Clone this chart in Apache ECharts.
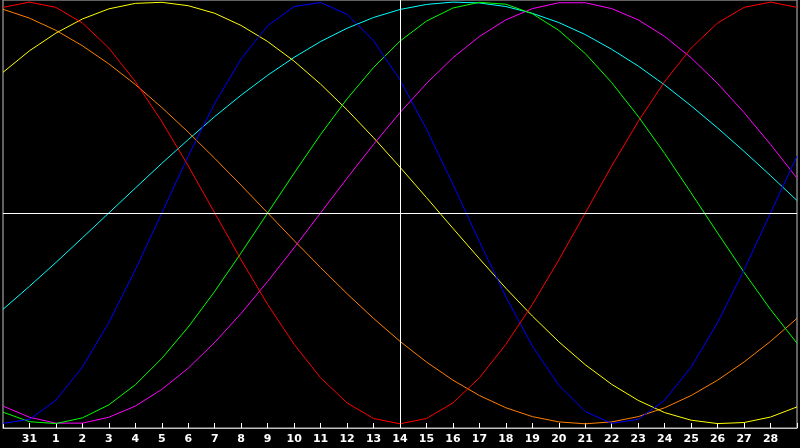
<!DOCTYPE html>
<html lang="en">
<head>
    <meta charset="utf-8">
    <title>Biorhythm</title>
    <script src="https://cdn.jsdelivr.net/npm/echarts@6/dist/echarts.min.js"></script>
    <style type="text/css">
        html, body {
            margin: 0;
            padding: 0;
            background: #000000;
        }

        #main {
            width: 800px;
            height: 448px;
        }
    </style>
</head>
<body>
<div id="main"></div>
<script type="text/javascript">
    // day labels under the ticks (first and last tick have none)
    let dayLabels = ['', '31', '1', '2', '3', '4', '5', '6', '7', '8', '9', '10', '11', '12', '13', '14',
        '15', '16', '17', '18', '19', '20', '21', '22', '23', '24', '25', '26', '27', '28', ''];
    let todayIndex = 15;

    // values in percent, one per day
    let physical = [-99.8, -97.9, -88.8, -73.1, -52.0, -27.0, 0, 27.0, 52.0, 73.1, 88.8, 97.9, 99.8, 94.2, 81.7,
        63.1, 39.8, 13.6, -13.6, -39.8, -63.1, -81.7, -94.2, -99.8, -97.9, -88.8, -73.1, -52.0, -27.0, 0, 27.0];
    let emotional = [97.5, 100, 97.5, 90.1, 78.2, 62.3, 43.4, 22.3, 0, -22.3, -43.4, -62.3, -78.2, -90.1, -97.5,
        -100, -97.5, -90.1, -78.2, -62.3, -43.4, -22.3, 0, 22.3, 43.4, 62.3, 78.2, 90.1, 97.5, 100, 97.5];
    let intellectual = [-94.5, -99.0, -99.9, -97.2, -91.0, -81.5, -69.0, -54.1, -37.2, -18.9, 0, 18.9, 37.2, 54.1, 69.0,
        81.5, 91.0, 97.2, 99.9, 99.0, 94.5, 86.6, 75.6, 61.8, 45.8, 28.2, 9.5, -9.5, -28.2, -45.8, -61.8];
    let intuitive = [-91.6, -96.9, -99.7, -99.7, -96.9, -91.6, -83.7, -73.6, -61.4, -47.6, -32.5, -16.5, 0, 16.5, 32.5,
        47.6, 61.4, 73.6, 83.7, 91.6, 96.9, 99.7, 99.7, 96.9, 91.6, 83.7, 73.6, 61.4, 47.6, 32.5, 16.5];
    let aesthetic = [66.7, 76.9, 85.3, 92.0, 96.8, 99.4, 99.9, 98.3, 94.7, 88.9, 81.3, 72.0, 61.1, 48.9, 35.7,
        21.7, 7.3, -7.3, -21.7, -35.7, -48.9, -61.1, -72.0, -81.3, -88.9, -94.7, -98.3, -99.9, -99.4, -96.8, -92.0];
    let awareness = [96.6, 92.4, 86.6, 79.3, 70.7, 60.9, 50.0, 38.3, 25.9, 13.1, 0, -13.1, -25.9, -38.3, -50.0,
        -60.9, -70.7, -79.3, -86.6, -92.4, -96.6, -99.1, -100, -99.1, -96.6, -92.4, -86.6, -79.3, -70.7, -60.9, -50.0];
    let spiritual = [-45.7, -34.8, -23.5, -11.8, 0, 11.8, 23.5, 34.8, 45.7, 55.9, 65.3, 73.8, 81.3, 87.6, 92.7,
        96.5, 98.9, 100.0, 99.6, 97.9, 94.7, 90.3, 84.6, 77.6, 69.7, 60.7, 50.8, 40.3, 29.2, 17.7, 5.9];

    let curves = [
        {name: 'Spiritual', color: '#00ffff', values: spiritual},
        {name: 'Awareness', color: '#ff8000', values: awareness},
        {name: 'Aesthetic', color: '#ffff00', values: aesthetic},
        {name: 'Intuitive', color: '#ff00ff', values: intuitive},
        {name: 'Intellectual', color: '#00ff00', values: intellectual},
        {name: 'Physical', color: '#0000ff', values: physical},
        {name: 'Emotional', color: '#ff0000', values: emotional}
    ];

    let series = [];
    for (let c = 0; c < curves.length; c++) {
        series.push({
            name: curves[c].name,
            type: 'line',
            data: curves[c].values.map(function (v, i) { return [i, v]; }),
            symbol: 'none',
            smooth: false,
            lineStyle: {color: curves[c].color, width: 1},
            silent: true
        });
    }
    // white lines for zero and today
    series[0].markLine = {
        silent: true,
        symbol: 'none',
        label: {show: false},
        lineStyle: {color: '#ffffff', width: 1, type: 'solid'},
        data: [{yAxis: 0}, {xAxis: todayIndex}],
        animation: false
    };

    let myChart = echarts.init(document.getElementById('main'));
    myChart.setOption({
        backgroundColor: '#000000',
        animation: false,
        grid: {
            left: 0,
            right: 0,
            top: 0,
            height: 428,
            show: true,
            borderColor: '#c0c0c0',
            borderWidth: 1,
            backgroundColor: 'transparent'
        },
        xAxis: {
            type: 'value',
            min: 0,
            max: dayLabels.length - 1,
            interval: 1,
            splitLine: {show: false},
            axisLine: {show: true, onZero: false, lineStyle: {color: '#c0c0c0', width: 1}},
            axisTick: {show: true, inside: true, length: 5, lineStyle: {color: '#ffffff', width: 1}},
            axisLabel: {
                color: '#ffffff',
                fontFamily: 'DejaVu Sans',
                fontWeight: 'bold',
                fontSize: 11,
                margin: 6,
                showMinLabel: true,
                showMaxLabel: true,
                formatter: function (v) { return dayLabels[v] || ''; }
            }
        },
        yAxis: {
            type: 'value',
            min: -102,
            max: 101,
            show: false,
            splitLine: {show: false}
        },
        series: series
    });
</script>
</body>
</html>
